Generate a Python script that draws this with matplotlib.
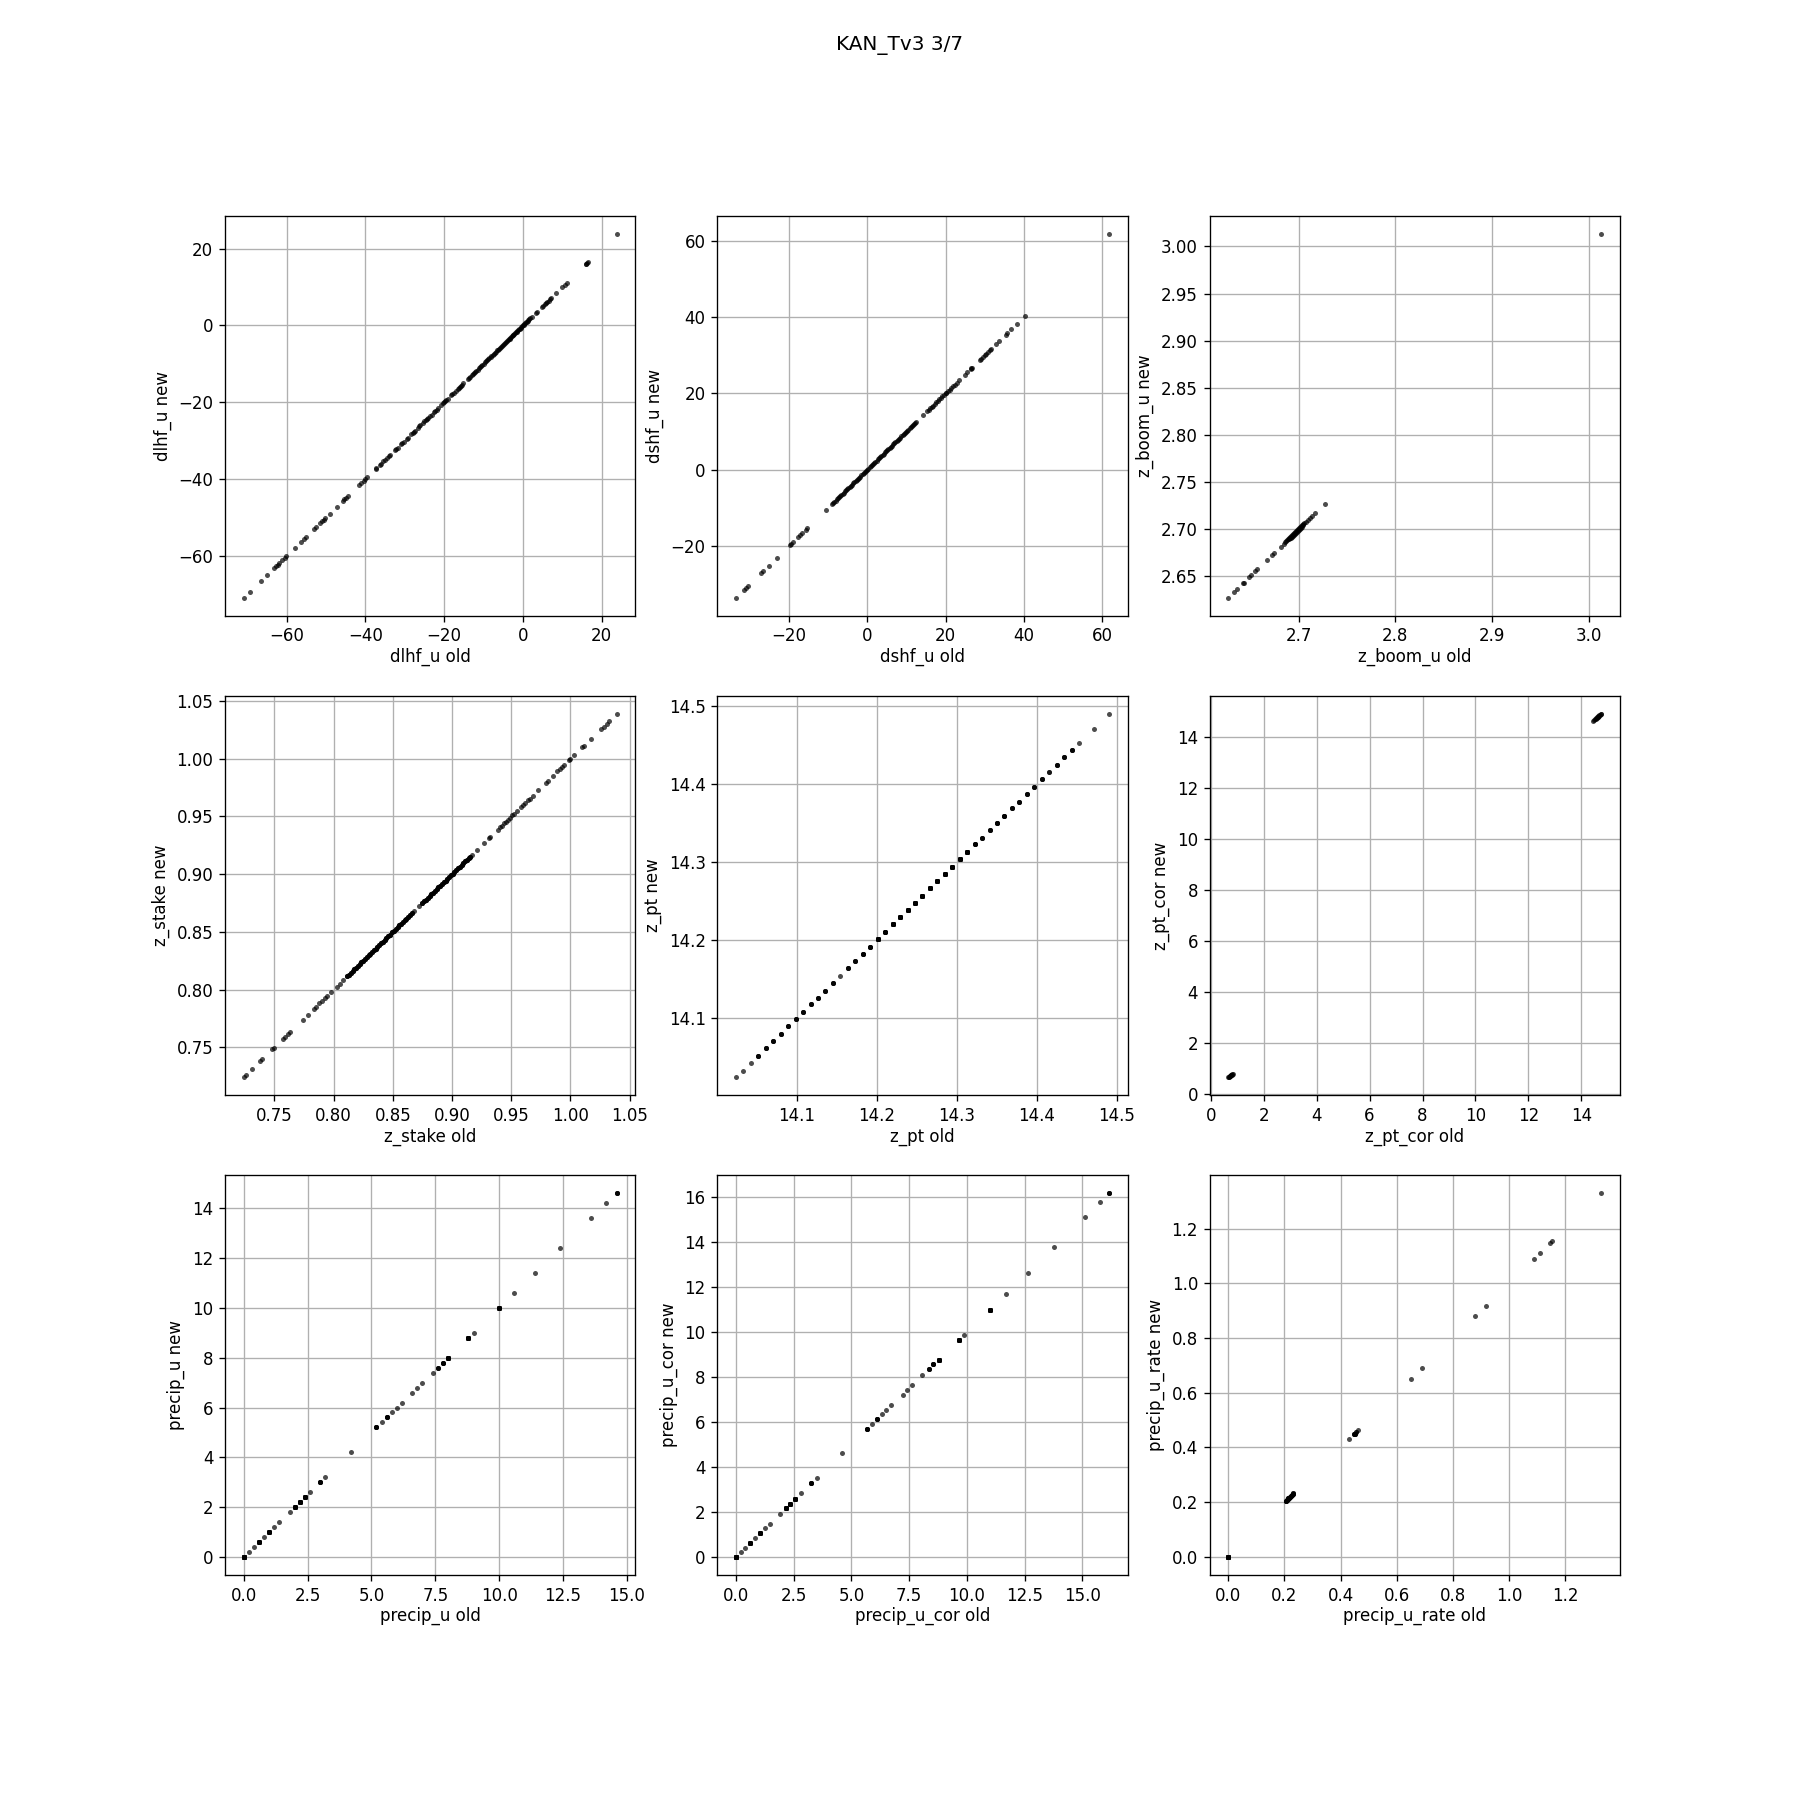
#coding: utf-8
import numpy as np
import matplotlib
matplotlib.use('Agg')
import matplotlib.pyplot as plt

dlhf_u = [-70.9, -69.4, -66.6, -65.0, -63.2, -62.8, -62.3, -61.8, -61.2, -60.5, -60.1, -57.9, -56.4, -55.6, -55.0, -53.0, -52.5,
          -51.4, -51.0, -50.6, -50.2, -49.0, -47.3, -45.7, -45.3, -44.9, -44.5, -41.5, -41.0, -40.4, -40.0, -39.6,
          -37.3, -37.2, -36.4, -36.0, -35.4, -35.0, -34.5, -34.1, -33.8, -32.4, -32.1, -31.8, -31.0, -30.6, -30.3, -29.5,
          -29.2, -28.3, -28.0, -27.7, -27.4, -26.6, -26.3, -26.0, -25.3, -25.0, -24.7, -24.3, -24.0, -23.6, -23.2, -22.5,
          -22.2, -21.9, -21.5, -20.7, -20.3, -20.0, -19.7, -19.4, -19.1, -18.2, -17.9, -17.6, -17.0, -16.6, -16.2, -16.0,
          -15.7, -15.4, -15.1, -14.0, -13.7, -13.4, -13.0, -12.7, -12.4, -12.2, -11.8, -11.5, -11.2, -10.9, -10.6, -10.4,
          -10.0, -9.6, -9.3, -9.0, -8.8, -8.5, -8.2, -8.0, -7.7, -7.4, -7.2, -6.8, -6.5, -6.3, -6.0, -5.8, -5.5, -5.3,
          -5.0, -4.8, -4.5, -4.3, -4.1, -3.9, -3.6, -3.4, -3.2, -3.0, -2.8, -2.6, -2.4, -2.2, -2.0, -1.8, -1.6, -1.4, -1.2,
          -1.0, -0.8, -0.6, -0.4, -0.2, 0.0, 0.2, 0.4, 0.6, 0.8, 1.0, 1.2, 1.4, 1.6, 1.9, 2.2, 3.2, 3.5, 4.9, 5.2, 5.6,
          5.9, 6.2, 6.5, 6.8, 7.1, 8.5, 10.0, 10.6, 11.2, 15.9, 16.1, 16.4, 16.6, 23.8]
dshf_u = [-33.5, -31.5, -31.0, -30.5, -27.1, -26.6, -25.2, -23.1, -19.8, -19.5, -19.0, -17.7, -17.2, -16.7, -15.7, -15.3, -10.6,
          -9.0, -8.7, -8.4, -8.1, -7.8, -7.5, -7.2, -6.9, -6.6, -6.3, -6.0, -5.7, -5.4, -5.1, -4.8, -4.5, -4.2, -3.9, -3.6,
          -3.3, -3.0, -2.7, -2.4, -2.1, -1.8, -1.5, -1.2, -0.9, -0.6, -0.3, 0.0, 0.3, 0.6, 0.9, 1.2, 1.5, 1.8, 2.1, 2.4, 2.7,
          3.0, 3.3, 3.6, 3.9, 4.2, 4.5, 4.8, 5.1, 5.4, 5.7, 6.0, 6.3, 6.6, 6.9, 7.2, 7.5, 7.8, 8.1, 8.4, 8.7, 9.0, 9.3, 9.6,
          9.9, 10.2, 10.5, 10.8, 11.1, 11.4, 11.7, 12.0, 12.3, 12.5, 14.2, 15.3, 15.7, 16.1, 16.5, 16.8, 17.2, 17.6, 18.0,
          18.4, 18.8, 19.2, 19.6, 20.0, 20.2, 20.6, 21.0, 21.4, 21.9, 22.3, 22.8, 23.4, 24.9, 25.5, 26.5, 26.6, 26.7, 28.7,
          29.1, 29.5, 30.0, 30.4, 30.9, 31.3, 31.7, 32.8, 33.6, 35.3, 35.7, 36.8, 38.2, 40.3, 61.7]
z_boom_u_old = [2.6273, 2.6336, 2.6367, 2.6425, 2.6432, 2.6491, 2.651, 2.655, 2.6574, 2.667, 2.6727, 2.675, 2.6813, 2.6844,
                2.686, 2.687, 2.688, 2.689, 2.690, 2.690, 2.691, 2.691, 2.692, 2.692, 2.693, 2.693, 2.694, 2.694, 2.695, 2.695,
                2.696, 2.696, 2.697, 2.697, 2.698, 2.698, 2.699, 2.699, 2.700, 2.700, 2.701, 2.701, 2.702, 2.702, 2.703, 2.703,
                2.704, 2.705, 2.706, 2.708, 2.710, 2.712, 2.714, 2.7166, 2.727, 3.013]
z_boom_u_new = [2.6273, 2.6336, 2.6367, 2.6425, 2.6432, 2.6491, 2.651, 2.655, 2.6574, 2.667, 2.6727, 2.675, 2.6813, 2.6844,
                2.686, 2.687, 2.688, 2.689, 2.691, 2.689, 2.692, 2.690, 2.693, 2.691, 2.694, 2.692, 2.695, 2.693, 2.696, 2.694,
                2.697, 2.695, 2.698, 2.696, 2.699, 2.697, 2.700, 2.698, 2.701, 2.699, 2.702, 2.700, 2.703, 2.701, 2.704, 2.702,
                2.704, 2.705, 2.706, 2.708, 2.710, 2.712, 2.714, 2.7166, 2.727, 3.013]
z_stake = [0.724, 0.726, 0.731, 0.738, 0.7395, 0.748, 0.7497, 0.7575, 0.759, 0.7615, 0.7635, 0.774, 0.778, 0.7835, 0.785, 0.788, 0.790,
           0.7925, 0.794, 0.7975, 0.8025, 0.805, 0.808, 0.8115, 0.813, 0.8145, 0.816, 0.8175, 0.819, 0.8205, 0.822, 0.8235, 0.825,
           0.8265, 0.828, 0.8295, 0.831, 0.8325, 0.834, 0.8355, 0.837, 0.8385, 0.84, 0.8415, 0.843, 0.8445, 0.846, 0.8475, 0.8495,
           0.851, 0.8525, 0.854, 0.8555, 0.857, 0.8585, 0.86, 0.8615, 0.863, 0.8645, 0.866, 0.868, 0.872, 0.875, 0.8765, 0.878,
           0.8795, 0.881, 0.8825, 0.884, 0.8855, 0.887, 0.8885, 0.89, 0.8915, 0.893, 0.8945, 0.896, 0.8975, 0.899, 0.9005, 0.902,
           0.9035, 0.905, 0.9065, 0.908, 0.9095, 0.911, 0.9125, 0.914, 0.915, 0.917, 0.921, 0.927, 0.931, 0.932, 0.9385, 0.9405,
           0.942, 0.944, 0.9455, 0.947, 0.949, 0.951, 0.9525, 0.9545, 0.958, 0.96, 0.962, 0.964, 0.9655, 0.968, 0.973, 0.979,
           0.981, 0.985, 0.989, 0.991, 0.993, 0.9945, 0.999, 1.0, 1.003, 1.010, 1.0115, 1.017, 1.026, 1.028, 1.0305, 1.0325, 1.039]
z_stake_n = [1] * 23 + [3] * 37 + [1] * 2 + [3] * 28 + [1] * 40
z_pt = [14.024, 14.0325, 14.0425, 14.051, 14.061, 14.07, 14.08, 14.089, 14.099, 14.1075, 14.1175, 14.126, 14.135, 14.145, 14.154,
        14.164, 14.1725, 14.1825, 14.191, 14.201, 14.21, 14.22, 14.229, 14.239, 14.2475, 14.256, 14.266, 14.275, 14.285, 14.294,
        14.304, 14.3125, 14.3225, 14.331, 14.341, 14.35, 14.359, 14.369, 14.3775, 14.3875, 14.3965, 14.406, 14.415, 14.425,
        14.434, 14.444, 14.4525, 14.471, 14.49]
z_pt_n = [1, 1, 1, 3, 3, 3, 3, 3, 3, 3, 3, 3, 3, 3, 1, 3, 3, 4, 4, 12, 6, 12, 12, 12, 12, 12, 12, 12, 12, 12, 12, 12, 4, 3, 3, 4, 4, 3, 3, 3, 3,
          3, 2, 3, 3, 3, 1, 1, 1]
z_pt_cor_old = [0.66, 0.68, 0.70, 0.71, 0.72, 0.73, 0.74, 0.75, 0.76, 0.77, 0.78, 0.80, 0.83, 14.46, 14.50, 14.53, 14.55, 14.57, 14.59, 14.60,
                14.62, 14.63, 14.64, 14.66, 14.68, 14.70, 14.73, 14.76]
z_pt_cor_new = [0.67, 0.68, 0.69, 0.70, 0.71, 0.72, 0.73, 0.74, 0.75, 0.76, 0.77, 0.78, 0.80, 14.63, 14.67, 14.70, 14.72, 14.74, 14.76, 14.77,
                14.79, 14.80, 14.81, 14.83, 14.85, 14.87, 14.89, 14.91]
precip_u = [0.0, 0.2, 0.4, 0.6, 0.8, 1.0, 1.2, 1.4, 1.8, 2.0, 2.2, 2.4, 2.6, 3.0, 3.2, 4.2, 5.2, 5.4, 5.6, 5.8, 6.0, 6.2, 6.6, 6.8, 7.0, 7.4,
            7.6, 7.8, 8.0, 8.8, 9.0, 10.0, 10.6, 11.4, 12.4, 13.6, 14.2, 14.6]
precip_u_n = [20, 1, 1, 12, 1, 12, 1, 1, 1, 12, 12, 12, 1, 4, 1, 1, 4, 1, 4, 1, 1, 1, 1, 1, 1, 1, 3, 4, 12, 12, 1, 12, 1, 1, 1, 1, 1, 3]
precip_u_cor = [0.0, 0.22, 0.39, 0.61, 0.82, 1.04, 1.26, 1.48, 1.91, 2.17, 2.34, 2.56, 2.82, 3.26, 3.52, 4.6, 5.69, 5.9, 6.12, 6.34, 6.51,
                6.73, 7.21, 7.42, 7.64, 8.07, 8.34, 8.55, 8.77, 9.64, 9.86, 10.98, 11.68, 12.63, 13.76, 15.11, 15.76, 16.15]
precip_u_cor_n = [20, 1, 1, 12, 1, 12, 1, 1, 1, 12, 12, 12, 1, 4, 1, 1, 4, 1, 4, 1, 1, 1, 1, 1, 1, 1, 3, 4, 12, 12, 1, 12, 1, 1, 1, 1, 1, 3]
precip_u_rate = [0.0, 0.205, 0.208, 0.211, 0.214, 0.217, 0.22, 0.223, 0.226, 0.229, 0.232, 0.431, 0.448, 0.451, 0.455, 0.463, 0.652, 0.691, 0.88,
                 0.919, 1.09, 1.112, 1.147, 1.154, 1.329]
precip_u_rate_n = [20, 4, 4, 3, 3, 3, 3, 3, 3, 3, 2, 1, 3, 3, 2, 1, 1, 1, 1, 1, 1, 1, 1, 1, 1]

names = ['dlhf_u', 'dshf_u', 'z_boom_u', 'z_stake', 'z_pt', 'z_pt_cor', 'precip_u', 'precip_u_cor', 'precip_u_rate']
z_stake_all = np.repeat(z_stake, z_stake_n)
z_pt_all = np.repeat(z_pt, z_pt_n)
precip_u_all = np.repeat(precip_u, precip_u_n)
precip_u_cor_all = np.repeat(precip_u_cor, precip_u_cor_n)
precip_u_rate_all = np.repeat(precip_u_rate, precip_u_rate_n)
old_values = [dlhf_u, dshf_u, z_boom_u_old, z_stake_all, z_pt_all, z_pt_cor_old, precip_u_all, precip_u_cor_all, precip_u_rate_all]
new_values = [dlhf_u, dshf_u, z_boom_u_new, z_stake_all, z_pt_all, z_pt_cor_new, precip_u_all, precip_u_cor_all, precip_u_rate_all]

fig, axes = plt.subplots(3, 3, figsize=(15, 15))
fig.subplots_adjust(bottom=0.125)
for ax, name, old, new in zip(axes.flat, names, old_values, new_values):
    ax.plot(old, new, linestyle='None', marker='.', markersize=6, markeredgewidth=0, color='k', alpha=0.7)
    ax.set_xlabel(name + ' old', labelpad=1.5)
    ax.set_ylabel(name + ' new')
    ax.grid()

fig.suptitle('KAN_Tv3 3/7')
fig.savefig('out.png', dpi=120)
